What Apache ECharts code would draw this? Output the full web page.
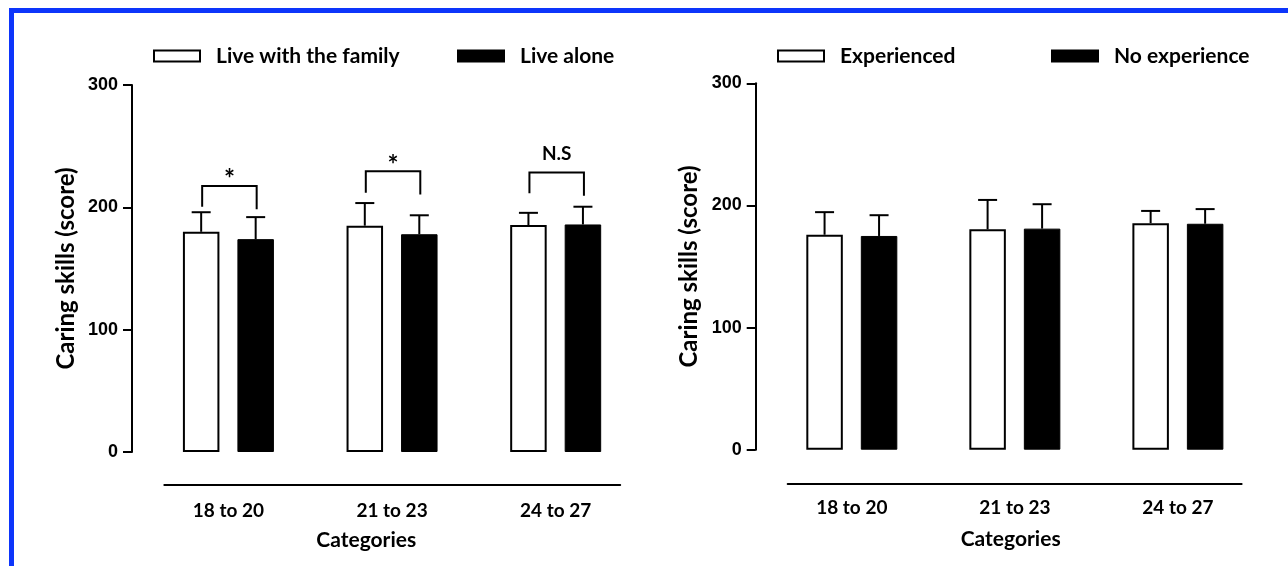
<!DOCTYPE html>
<html>
<head>
<meta charset="utf-8">
<script src="https://cdn.jsdelivr.net/npm/echarts@6/dist/echarts.min.js"></script>
<style>
  html, body { margin: 0; padding: 0; background: #fff; }
  #chart { width: 1288px; height: 566px; }
</style>
</head>
<body>
<div id="chart"></div>
<script>
// data
const categories = ['18 to 20', '21 to 23', '24 to 27'];

// left panel: living situation
const familyMean = [180, 185, 185.5];
const familySd = [16, 18.5, 10];
const aloneMean = [174, 178, 186];
const aloneSd = [18, 15.5, 14.5];
const sigLabels = ['*', '*', 'N.S'];
const sigTop = [217.5, 229.5, 228.5];
const sigLeftEnd = [200.5, 212, 211.5];
const sigRightEnd = [198.5, 210.5, 209.5];

// right panel: experience
const experiencedMean = [176, 180.5, 185.5];
const experiencedSd = [18.5, 24, 10];
const noExpMean = [175, 181, 185];
const noExpSd = [17, 20, 12];

const BAR_W = 36.5;
const BAR_GAP = 18;
const HALF_STEP = (BAR_W + BAR_GAP) / 2;
const BOLD = 'Lato';
const TICK_FONT = "'Liberation Sans Narrow', 'Liberation Sans', Arial, sans-serif";

const myChart = echarts.init(document.getElementById('chart'));

function errData(mean, sd) {
  return categories.map((c, i) => [i, mean[i], mean[i] + sd[i]]);
}

function errorBars(offset) {
  return function (params, api) {
    const base = api.coord([api.value(0), api.value(1)]);
    const top = api.coord([api.value(0), api.value(2)]);
    const x = base[0] + offset;
    const st = { stroke: '#000', lineWidth: 2 };
    return {
      type: 'group',
      children: [
        { type: 'line', shape: { x1: x, y1: base[1], x2: x, y2: top[1] }, style: st },
        { type: 'line', shape: { x1: x - 9.5, y1: top[1], x2: x + 9.5, y2: top[1] }, style: st }
      ]
    };
  };
}

function renderBracket(params, api) {
  const i = api.value(0);
  const top = api.coord([i, api.value(1)]);
  const l = api.coord([i, api.value(2)]);
  const r = api.coord([i, api.value(3)]);
  const xl = top[0] - HALF_STEP + 1;
  const xr = top[0] + HALF_STEP + 1;
  const label = sigLabels[params.dataIndex];
  const star = label === '*';
  return {
    type: 'group',
    children: [
      {
        type: 'polyline',
        shape: { points: [[xl, l[1]], [xl, top[1]], [xr, top[1]], [xr, r[1]]] },
        style: { stroke: '#000', lineWidth: 2, fill: null }
      },
      {
        type: 'text',
        x: (xl + xr) / 2,
        y: star ? top[1] + 7 : top[1] - 9,
        style: {
          text: label, fill: '#000', align: 'center', verticalAlign: 'bottom',
          fontFamily: BOLD, fontWeight: 'bold', fontSize: star ? 26 : 19
        }
      }
    ]
  };
}

function barSeries(name, data, xi, filled) {
  return {
    name: name,
    type: 'bar',
    xAxisIndex: xi,
    yAxisIndex: xi,
    barWidth: BAR_W,
    barGap: (BAR_GAP / BAR_W * 100) + '%',
    data: data,
    itemStyle: filled
      ? { color: '#000', borderColor: '#000', borderWidth: 1 }
      : { color: '#fff', borderColor: '#000', borderWidth: 2 },
    emphasis: { disabled: true },
    z: 2
  };
}

function errSeries(mean, sd, xi, offset) {
  return {
    type: 'custom',
    xAxisIndex: xi,
    yAxisIndex: xi,
    data: errData(mean, sd),
    renderItem: errorBars(offset),
    z: 3,
    silent: true
  };
}

const yAxisBase = {
  type: 'value',
  min: 0,
  max: 300,
  interval: 100,
  offset: 14.6,
  name: 'Caring skills (score)',
  nameLocation: 'middle',
  nameGap: 54,
  nameTextStyle: { fontFamily: BOLD, fontWeight: 'bold', fontSize: 24, color: '#000' },
  axisLine: { show: true, onZero: false, lineStyle: { color: '#000', width: 2 } },
  axisTick: { show: true, length: 9, lineStyle: { color: '#000', width: 2 } },
  axisLabel: { margin: 14, fontFamily: TICK_FONT, fontWeight: 'bold', fontSize: 18, color: '#000' },
  splitLine: { show: false }
};

const catAxisBase = {
  type: 'category',
  data: categories,
  axisLine: { show: false },
  axisTick: { show: false },
  axisLabel: { margin: 49, fontFamily: BOLD, fontWeight: 'bold', fontSize: 19, color: '#000' }
};

function lineAxis(gi, pad) {
  return {
    type: 'value', gridIndex: gi, min: 0, max: 1, position: 'bottom',
    name: 'Categories', nameLocation: 'middle', nameGap: 45,
    nameTextStyle: { fontFamily: BOLD, fontWeight: 'bold', fontSize: 21, color: '#000', padding: pad },
    axisLine: { show: true, onZero: false, lineStyle: { color: '#000', width: 2 } },
    axisTick: { show: false }, axisLabel: { show: false }, splitLine: { show: false }
  };
}

function hiddenY(gi) {
  return { type: 'value', gridIndex: gi, min: 0, max: 1, show: false };
}

function legendFor(name, left) {
  return {
    data: [name],
    left: left,
    top: 40.5,
    icon: 'rect',
    itemWidth: 46,
    itemHeight: 11,
    selectedMode: false,
    textStyle: { fontFamily: BOLD, fontWeight: 'bold', fontSize: 21, color: '#000', lineHeight: 21, padding: [0, 0, 0, 11] }
  };
}

const option = {
  backgroundColor: '#fff',
  animation: false,
  graphic: [{
    type: 'rect',
    shape: { x: 11.5, y: 10.5, width: 1400, height: 700 },
    style: { fill: null, stroke: '#0d35fb', lineWidth: 5 },
    silent: true
  }],
  legend: [
    legendFor('Live with the family', 148),
    legendFor('Live alone', 452),
    legendFor('Experienced', 772),
    legendFor('No experience', 1046)
  ],
  grid: [
    { left: 146.6, top: 85, width: 490.9, height: 367 },
    { left: 164.3, top: 484, width: 455.9, height: 1 },
    { left: 770.3, top: 83.3, width: 489.1, height: 366.4 },
    { left: 787.7, top: 482.3, width: 453.9, height: 1 }
  ],
  xAxis: [
    Object.assign({ gridIndex: 0 }, catAxisBase),
    lineAxis(1, [0, 52, 0, 0]),
    Object.assign({ gridIndex: 2 }, catAxisBase),
    lineAxis(3, [0, 8, 0, 0])
  ],
  yAxis: [
    Object.assign({ gridIndex: 0 }, yAxisBase),
    hiddenY(1),
    Object.assign({ gridIndex: 2 }, yAxisBase),
    hiddenY(3)
  ],
  series: [
    barSeries('Live with the family', familyMean, 0, false),
    barSeries('Live alone', aloneMean, 0, true),
    errSeries(familyMean, familySd, 0, -HALF_STEP),
    errSeries(aloneMean, aloneSd, 0, HALF_STEP),
    {
      type: 'custom',
      xAxisIndex: 0,
      yAxisIndex: 0,
      data: categories.map((c, i) => [i, sigTop[i], sigLeftEnd[i], sigRightEnd[i]]),
      renderItem: renderBracket,
      z: 4,
      silent: true
    },
    barSeries('Experienced', experiencedMean, 2, false),
    barSeries('No experience', noExpMean, 2, true),
    errSeries(experiencedMean, experiencedSd, 2, -HALF_STEP),
    errSeries(noExpMean, noExpSd, 2, HALF_STEP)
  ]
};

myChart.setOption(option);
</script>
</body>
</html>
